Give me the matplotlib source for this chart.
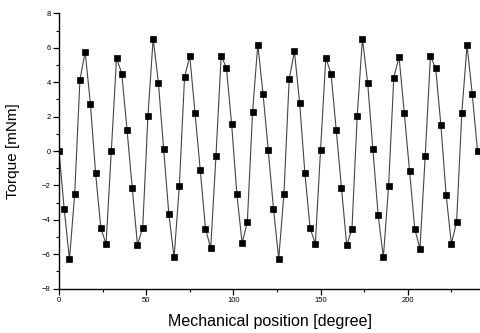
import numpy as np
import matplotlib
matplotlib.use("Agg")
import matplotlib.pyplot as plt
from matplotlib.ticker import MultipleLocator

plt.rcParams['font.family'] = ['Liberation Sans', 'DejaVu Sans']

position_deg = list(range(0, 243, 3))
torque = [0.0, -3.39, -6.30, -2.50, 4.13, 5.76, 2.75, -1.30, -4.48, -5.40,
          0.0, 5.40, 4.50, 1.24, -2.15, -5.46, -4.46, 2.02, 6.53, 3.97,
          0.12, -3.68, -6.18, -2.05, 4.30, 5.50, 2.21, -1.10, -4.52, -5.64,
          -0.31, 5.52, 4.84, 1.55, -2.50, -5.35, -4.13, 2.27, 6.18, 3.33,
          0.04, -3.35, -6.26, -2.48, 4.17, 5.79, 2.79, -1.28, -4.48, -5.39,
          0.08, 5.41, 4.50, 1.20, -2.15, -5.48, -4.52, 2.02, 6.53, 3.97,
          0.10, -3.70, -6.18, -2.05, 4.26, 5.47, 2.21, -1.14, -4.52, -5.68,
          -0.31, 5.50, 4.83, 1.49, -2.54, -5.39, -4.13, 2.23, 6.14, 3.29,
          0.0]

xticks = [0, 50, 100, 150, 200]
yticks = [-8, -6, -4, -2, 0, 2, 4, 6, 8]

fig = plt.figure(figsize=(4.81, 3.33), dpi=100)
ax = fig.add_axes([59/481, 44.3/333, 422/481, 275.4/333])

ax.plot(position_deg, torque, color='#444444', linewidth=0.8,
        marker='s', markersize=5, markerfacecolor='black',
        markeredgecolor='black', markeredgewidth=0.5)

ax.set_xlim(0, 242)
ax.set_ylim(-8, 8)
ax.set_xticks(xticks)
ax.set_yticks(yticks)
ax.xaxis.set_minor_locator(MultipleLocator(25))
ax.yaxis.set_minor_locator(MultipleLocator(1))
ax.tick_params(axis='both', which='major', direction='out', length=4,
               width=0.9, labelsize=5.5, pad=2)
ax.tick_params(axis='both', which='minor', direction='out', length=2,
               width=0.8)

for s in ['top', 'right']:
    ax.spines[s].set_visible(False)
for s in ['left', 'bottom']:
    ax.spines[s].set_linewidth(1.0)

ax.set_xlabel('Mechanical position [degree]', fontsize=11.5, labelpad=7)
ax.set_ylabel('Torque [mNm]', fontsize=11, labelpad=16)

fig.savefig('out.png', dpi=100)
